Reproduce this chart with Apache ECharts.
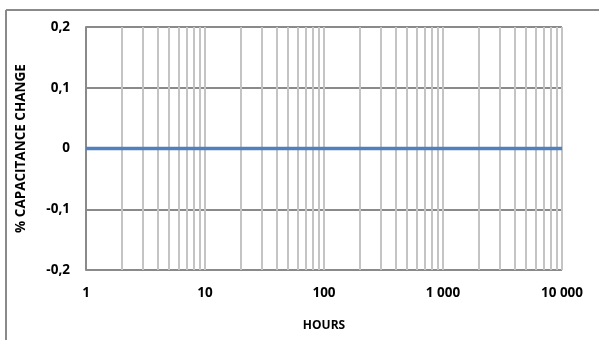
<!DOCTYPE html>
<html>
<head>
<meta charset="utf-8">
<script src="https://cdn.jsdelivr.net/npm/echarts@6/dist/echarts.min.js"></script>
<style>
  html, body { margin: 0; padding: 0; background: #fff; }
  #chart { width: 599px; height: 340px; }
</style>
</head>
<body>
<div id="chart"></div>
<script>
// Capacitance drift versus time on test
const hours = [1, 10, 100, 1000, 10000];
const capChange = [0, 0, 0, 0, 0];

// Intermediate log-grid positions (2..9 of each decade)
const minorHours = [];
[1, 10, 100, 1000].forEach(function (d) {
  for (let k = 2; k <= 9; k++) minorHours.push(k * d);
});
const majorHours = [10, 100, 1000, 10000];

const FONT = 'Open Sans';
const chart = echarts.init(document.getElementById('chart'), null, { renderer: 'canvas' });

function fmtThousands(v) {
  return String(Math.round(v)).replace(/\B(?=(\d{3})+(?!\d))/g, ' ');
}

chart.setOption({
  animation: false,
  graphic: [
    { type: 'line', shape: { x1: 6, y1: 10, x2: 599, y2: 10 }, style: { stroke: '#8a8a8a', lineWidth: 2 } },
    { type: 'line', shape: { x1: 6, y1: 10, x2: 6, y2: 340 }, style: { stroke: '#8a8a8a', lineWidth: 2 } }
  ],
  grid: { left: 86, right: 37, top: 27, bottom: 70 },
  xAxis: {
    type: 'log',
    logBase: 10,
    min: 1,
    max: 10000,
    name: 'HOURS',
    nameLocation: 'middle',
    nameGap: 50,
    nameTextStyle: { fontFamily: FONT, fontWeight: 'bold', fontSize: 12, color: '#000' },
    axisLine: { show: false },
    axisTick: { show: false },
    splitLine: { show: false },
    axisLabel: {
      margin: 16,
      fontFamily: FONT, fontWeight: 'bold', fontSize: 13.5, color: '#000',
      formatter: fmtThousands
    }
  },
  yAxis: {
    type: 'value',
    min: -0.2,
    max: 0.2,
    interval: 0.1,
    name: '% CAPACITANCE CHANGE',
    nameLocation: 'middle',
    nameGap: 58,
    nameTextStyle: { fontFamily: FONT, fontWeight: 'bold', fontSize: 13.5, color: '#000' },
    axisLine: { show: true, lineStyle: { color: '#8a8a8a', width: 2 } },
    axisTick: { show: false },
    splitLine: { show: true, lineStyle: { color: '#8a8a8a', width: 2 } },
    axisLabel: {
      margin: 16,
      fontFamily: FONT, fontWeight: 'bold', fontSize: 13.5, color: '#000',
      formatter: function (v) {
        const r = Math.round(v * 10) / 10;
        return r === 0 ? '0' : r.toFixed(1).replace('.', ',');
      }
    }
  },
  series: [
    {
      type: 'line',
      data: hours.map(function (h, i) { return [h, capChange[i]]; }),
      symbol: 'none',
      z: 5,
      lineStyle: { color: '#4f81bd', width: 3.5 },
      markLine: {
        silent: true,
        symbol: 'none',
        label: { show: false },
        z: 1,
        lineStyle: { color: '#c4c4c4', width: 2, type: 'solid' },
        data: minorHours.concat(majorHours).map(function (h) { return { xAxis: h }; })
      }
    }
  ]
});
</script>
</body>
</html>
